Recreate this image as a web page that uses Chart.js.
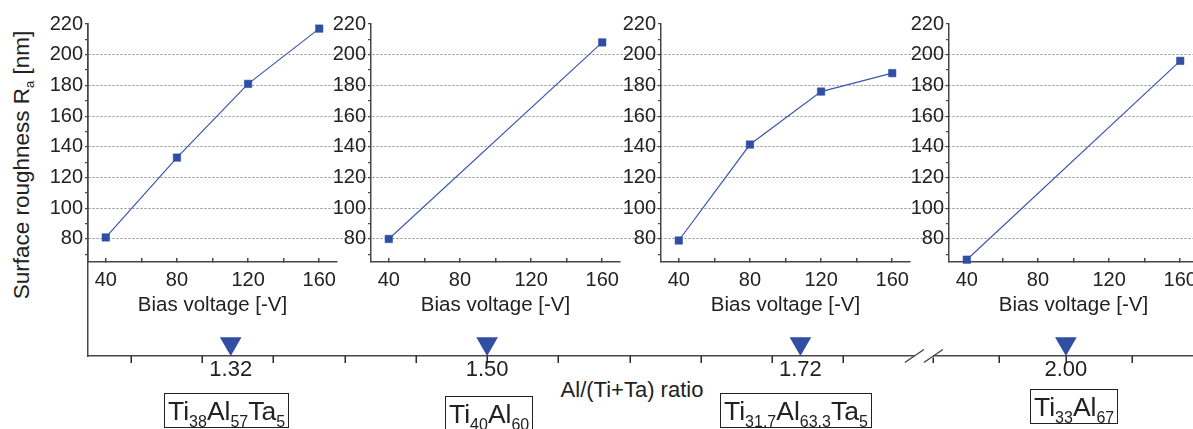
<!DOCTYPE html>
<html>
<head>
<meta charset="utf-8">
<script src="https://cdn.jsdelivr.net/npm/chart.js@4.4.1/dist/chart.umd.min.js"></script>
<style>
  html, body { margin: 0; padding: 0; background: #fff; overflow: hidden; }
  #figure { position: relative; width: 1193px; height: 429px; overflow: hidden;
            font-family: "Liberation Sans", Arial, sans-serif; color: #222; }
  #figure canvas { position: absolute; top: 0; }
  .ytitle { position: absolute; left: 22px; top: 165px; transform: translate(-50%, -50%) rotate(-90deg);
            font-size: 22.5px; white-space: nowrap; }
  .ytitle sub { font-size: 13px; line-height: 0; vertical-align: -0.35em; }
  .ratio-title { position: absolute; left: 632px; top: 390px; transform: translate(-50%, -50%);
                 font-size: 22px; white-space: nowrap; }
  .alloy { position: absolute; border: 1px solid #222; padding: 1px 3px 0 3px; font-size: 26.5px;
           line-height: 32px; white-space: nowrap; background: #fff; }
  .alloy sub { font-size: 16px; line-height: 0; vertical-align: -0.45em; }
</style>
</head>
<body>
<div id="figure">
  <div class="ytitle">Surface roughness R<sub>a</sub> [nm]</div>
  <div class="ratio-title">Al/(Ti+Ta) ratio</div>
</div>
<script>
// Surface roughness Ra [nm] against bias voltage [-V], one panel per coating
const biasA = [40, 80, 120, 160];
const roughA = [81, 133, 181, 217];
const biasB = [40, 160];
const roughB = [80, 208];
const biasC = [40, 80, 120, 160];
const roughC = [79, 141.5, 176, 188];
const biasD = [40, 160];
const roughD = [66.5, 196];

const biasTicks = [40, 60, 80, 100, 120, 140, 160];
const roughTicks = [70, 80, 90, 100, 110, 120, 130, 140, 150, 160, 170, 180, 190, 200, 210, 220];
const gridValues = [80, 100, 120, 140, 160, 180, 200];

// Al/(Ti+Ta) ratio of each coating and its composition
const ratios = [1.32, 1.50, 1.72, 2.00];
const alloys = [
  [['Ti', '38'], ['Al', '57'], ['Ta', '5']],
  [['Ti', '40'], ['Al', '60']],
  [['Ti', '31.7'], ['Al', '63.3'], ['Ta', '5']],
  [['Ti', '33'], ['Al', '67']]
];
const ratioTicksLeft = [1.25, 1.30, 1.35, 1.40, 1.45, 1.50, 1.55, 1.60, 1.65, 1.70, 1.75];
const ratioTicksRight = [1.90, 1.95, 2.00, 2.05];

// layout
const fontFamily = '"Liberation Sans", Arial, sans-serif';
const textColor = '#222';
const axisColor = '#474747';
const gridColor = '#8e8e8e';
const lineBlue = '#3a58ad';
const markBlue = '#2f4ea4';
const panelAxisX = [88, 371, 661, 949];
const plotTop = 24, plotBottom = 262, plotWidth = 249, panelHeight = 320;
const ratioAxisY = 356;
const xMin = 30, xMax = 170, yMin = 65, yMax = 220;
const leftRange = [1.2198, 1.80], rightRange = [1.886, 2.096];
const alloyLeft = [164, 445, 720, 1030];
const alloyTop = [393, 396, 393, 389];
const markerLevel = 12;

const fig = document.getElementById('figure');

function addCanvas(left, width, height) {
  const c = document.createElement('canvas');
  c.width = width;
  c.height = height;
  c.style.left = left + 'px';
  fig.appendChild(c);
  return c;
}

const scaleFor = r => (r <= leftRange[1] ? 'xL' : 'xR');

// ratio axis: tick marks, break marks and the ratio value under each marker
const ratioAxisDecor = {
  id: 'ratioAxisDecor',
  afterDraw(chart) {
    const ctx = chart.ctx;
    const {xL, xR} = chart.scales;
    const y = xL.top;
    ctx.save();
    ctx.strokeStyle = '#2a2a2a';
    ctx.lineWidth = 1.5;
    ctx.beginPath();
    [[xL, ratioTicksLeft], [xR, ratioTicksRight]].forEach(([s, list]) => {
      list.forEach(v => {
        const px = Math.round(s.getPixelForValue(v)) + 0.25;
        ctx.moveTo(px, y);
        ctx.lineTo(px, y + 7);
      });
    });
    ctx.stroke();

    const xb = xL.right;
    ctx.fillStyle = '#fff';
    ctx.fillRect(xb, y - 2, 19, 4);
    ctx.strokeStyle = axisColor;
    ctx.beginPath();
    ctx.moveTo(xb - 9.5, y + 6.5); ctx.lineTo(xb + 9.5, y - 6.5);
    ctx.moveTo(xb + 9.5, y + 6.5); ctx.lineTo(xb + 28.5, y - 6.5);
    ctx.stroke();

    ctx.fillStyle = textColor;
    ctx.font = '22px ' + fontFamily;
    ctx.textAlign = 'center';
    ctx.textBaseline = 'middle';
    ratios.forEach(r => {
      ctx.fillText(r.toFixed(2), chart.scales[scaleFor(r)].getPixelForValue(r), y + 14);
    });
    ctx.restore();
  }
};

function ratioScale(range, weight) {
  return {
    type: 'linear', position: 'bottom', stack: 'ratio', stackWeight: weight,
    min: range[0], max: range[1],
    afterFit: s => { s.height = 429 - ratioAxisY; },
    border: { display: true, color: axisColor, width: 1.5 },
    grid: { display: false },
    ticks: { display: false }
  };
}

// background: shared grid lines, frame and Al/(Ti+Ta) ratio axis
const bgMin = yMin - (ratioAxisY - plotBottom) * (yMax - yMin) / (plotBottom - plotTop);
new Chart(addCanvas(0, 1206, 429), {
  type: 'line',
  data: {
    datasets: [
      { xAxisID: 'xL', yAxisID: 'y', data: ratios.filter(r => scaleFor(r) === 'xL').map(r => ({ x: r, y: markerLevel })) },
      { xAxisID: 'xR', yAxisID: 'y', data: ratios.filter(r => scaleFor(r) === 'xR').map(r => ({ x: r, y: markerLevel })) }
    ].map(d => Object.assign(d, {
      showLine: false, pointStyle: 'triangle', rotation: 180, pointRadius: 12.5,
      pointBackgroundColor: markBlue, pointBorderWidth: 0, clip: false
    }))
  },
  options: {
    responsive: false, animation: false, events: [],
    layout: { padding: { top: plotTop, right: 0, bottom: 0, left: 0 } },
    plugins: { legend: { display: false }, tooltip: { enabled: false } },
    scales: {
      xL: ratioScale(leftRange, 826),
      xR: ratioScale(rightRange, 279),
      y: {
        position: 'left', min: bgMin, max: yMax,
        afterBuildTicks: s => { s.ticks = gridValues.map(v => ({ value: v })); },
        afterFit: s => { s.width = panelAxisX[0]; },
        border: { display: true, color: axisColor, width: 1.5, dash: [2, 2] },
        grid: { color: gridColor, lineWidth: 1, drawTicks: false },
        ticks: { display: false }
      }
    }
  },
  plugins: [ratioAxisDecor]
});

// one small chart per coating
function makePanel(i, bias, rough) {
  const canvas = addCanvas(panelAxisX[i] - 60, 60 + plotWidth + 10, panelHeight);
  new Chart(canvas, {
    type: 'line',
    data: {
      datasets: [{
        data: bias.map((b, k) => ({ x: b, y: rough[k] })),
        borderColor: lineBlue, borderWidth: 1.2, tension: 0,
        pointStyle: 'rect', pointRadius: 5.3,
        pointBackgroundColor: markBlue, pointBorderColor: markBlue, pointBorderWidth: 0.5,
        clip: false
      }]
    },
    options: {
      responsive: false, animation: false, events: [],
      layout: { padding: { top: plotTop, right: 10, bottom: 0, left: 0 } },
      plugins: { legend: { display: false }, tooltip: { enabled: false } },
      scales: {
        x: {
          type: 'linear', min: xMin, max: xMax,
          afterBuildTicks: s => { s.ticks = biasTicks.map(v => ({ value: v })); },
          afterFit: s => { s.height = panelHeight - plotBottom; },
          border: { color: axisColor, width: 1.5 },
          grid: { drawOnChartArea: false, tickLength: -4, color: axisColor, lineWidth: 1.5 },
          ticks: {
            autoSkip: false, maxRotation: 0, padding: 10, color: textColor,
            font: { size: 20, family: fontFamily },
            callback: v => v % 40 === 0 ? String(v) : ''
          },
          title: {
            display: true, text: 'Bias voltage [-V]', color: textColor,
            font: { size: 20.5, family: fontFamily }, padding: { top: 0, bottom: 2 }
          }
        },
        y: {
          min: yMin, max: yMax,
          afterBuildTicks: s => { s.ticks = roughTicks.map(v => ({ value: v })); },
          afterFit: s => { s.width = 60; },
          border: { color: axisColor, width: 1.5 },
          grid: { drawOnChartArea: false, tickLength: 3, color: axisColor, lineWidth: 1.2 },
          ticks: {
            autoSkip: false, padding: 2, color: textColor,
            font: { size: 20, family: fontFamily },
            callback: v => v % 20 === 0 ? String(v) : ''
          }
        }
      }
    }
  });
}

makePanel(0, biasA, roughA);
makePanel(1, biasB, roughB);
makePanel(2, biasC, roughC);
makePanel(3, biasD, roughD);

// composition boxes under the ratio axis
alloys.forEach((parts, i) => {
  const box = document.createElement('div');
  box.className = 'alloy';
  box.style.left = alloyLeft[i] + 'px';
  box.style.top = alloyTop[i] + 'px';
  box.innerHTML = parts.map(p => p[0] + '<sub>' + p[1] + '</sub>').join('');
  fig.appendChild(box);
});
</script>
</body>
</html>
